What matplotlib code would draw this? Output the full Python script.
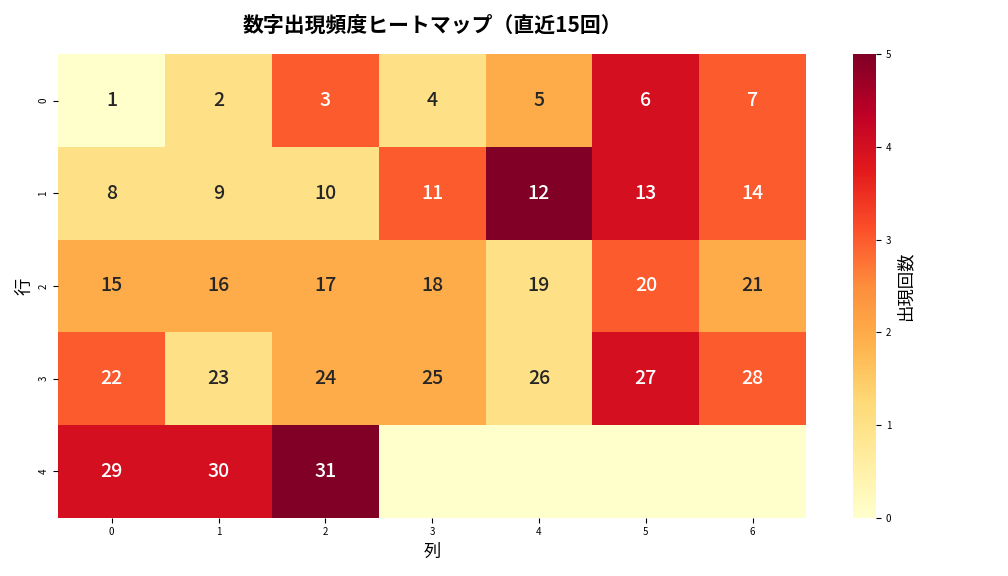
import numpy as np
import matplotlib
matplotlib.use('Agg')
import matplotlib.pyplot as plt
import seaborn as sns

plt.rcParams['font.family'] = ['Noto Sans CJK JP', 'DejaVu Sans']

### DATA
# number labels for each cell (5 rows x 7 cols), blank past 31
numbers = [[1, 2, 3, 4, 5, 6, 7],
           [8, 9, 10, 11, 12, 13, 14],
           [15, 16, 17, 18, 19, 20, 21],
           [22, 23, 24, 25, 26, 27, 28],
           [29, 30, 31, None, None, None, None]]
# appearance counts in the last 15 draws
counts = [[0, 1, 3, 1, 2, 4, 3],
          [1, 1, 1, 3, 5, 4, 3],
          [2, 2, 2, 2, 1, 3, 2],
          [3, 1, 2, 2, 1, 4, 3],
          [4, 4, 5, 0, 0, 0, 0]]

counts = np.array(counts)
labels = np.array([['' if n is None else str(n) for n in row] for row in numbers])

fig, ax = plt.subplots(figsize=(10.08, 5.76), dpi=100)
sns.heatmap(counts, annot=labels, fmt='', cmap='YlOrRd', vmin=0, vmax=5,
            annot_kws={'fontsize': 14, 'fontweight': 'medium'},
            cbar_kws={'label': '出現回数'}, ax=ax)

ax.set_title('数字出現頻度ヒートマップ（直近15回）', fontsize=15, fontweight='bold', pad=16)
ax.set_xlabel('列', fontsize=12.5)
ax.set_ylabel('行', fontsize=12.5)
ax.tick_params(labelsize=7)
plt.setp(ax.get_yticklabels(), rotation=90)

cbar = ax.collections[0].colorbar
cbar.ax.tick_params(labelsize=7)
cbar.set_label('出現回数', fontsize=12.5)

plt.tight_layout()
plt.savefig('out.png')
